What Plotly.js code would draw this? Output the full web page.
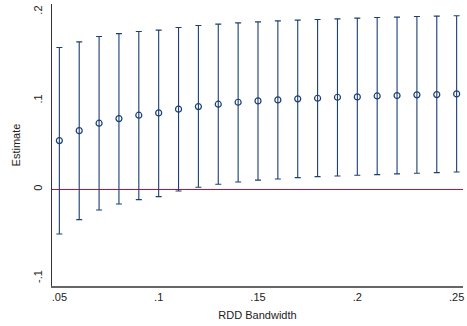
<!DOCTYPE html>
<html>
<head>
<meta charset="utf-8">
<script src="https://cdn.plot.ly/plotly-3.0.1.min.js"></script>
<style>html,body{margin:0;padding:0;background:#fff;}#chart{width:467px;height:326px;}</style>
</head>
<body>
<div id="chart"></div>
<script>
const bandwidth = [0.05,0.06,0.07,0.08,0.09,0.10,0.11,0.12,0.13,0.14,0.15,0.16,0.17,0.18,0.19,0.20,0.21,0.22,0.23,0.24,0.25];
const estimate = [0.0549,0.0661,0.0745,0.0797,0.0835,0.0861,0.0903,0.0932,0.0959,0.0981,0.0996,0.1007,0.1019,0.1026,0.1037,0.1041,0.1052,0.1056,0.1064,0.1067,0.1075];
const ciUpper = [0.1597,0.1661,0.1721,0.1754,0.1777,0.1793,0.1822,0.1845,0.1860,0.1875,0.1886,0.1897,0.1905,0.1912,0.1920,0.1928,0.1935,0.1939,0.1946,0.1950,0.1954];
const ciLower = [-0.0503,-0.0341,-0.0232,-0.0165,-0.0116,-0.0082,-0.0018,0.0024,0.0057,0.0083,0.0104,0.0117,0.0132,0.0143,0.0151,0.0159,0.0166,0.0174,0.0181,0.0188,0.0196];
const xTickVals = [0.05,0.10,0.15,0.20,0.25];
const xTickText = ['.05','.1','.15','.2','.25'];
const yTickVals = [-0.1,0,0.1,0.2];
const yTickText = ['-.1','0','.1','.2'];

const navy = '#1a3f73';
const trace = {
  x: bandwidth,
  y: estimate,
  type: 'scatter',
  mode: 'markers',
  marker: {symbol: 'circle-open', size: 6, color: navy, line: {width: 1.2, color: navy}},
  error_y: {
    type: 'data',
    symmetric: false,
    array: ciUpper.map((u,i) => u - estimate[i]),
    arrayminus: ciLower.map((l,i) => estimate[i] - l),
    color: navy,
    thickness: 1.1,
    width: 3
  },
  hoverinfo: 'skip'
};

const font = {family: 'Liberation Sans, Arial, sans-serif', size: 11, color: '#222'};
const layout = {
  width: 467, height: 326,
  margin: {l: 52, r: 4, t: 4, b: 40},
  paper_bgcolor: '#fff', plot_bgcolor: '#fff',
  showlegend: false,
  font: font,
  xaxis: {
    range: [0.0463, 0.2532],
    tickvals: xTickVals, ticktext: xTickText,
    ticks: '', showgrid: false, zeroline: false,
    showline: true, linecolor: '#666', linewidth: 1.5,
    tickfont: font,
    title: {text: 'RDD Bandwidth', font: font, standoff: 9}
  },
  yaxis: {
    range: [-0.1088, 0.2087],
    tickvals: yTickVals, ticktext: yTickText,
    tickangle: -90,
    ticks: '', showgrid: false,
    ticklabelstandoff: 5,
    zeroline: true, zerolinecolor: '#c0142e', zerolinewidth: 1,
    showline: true, linecolor: '#333', linewidth: 1,
    tickfont: font,
    title: {text: 'Estimate', font: font, standoff: 8}
  }
};
Plotly.newPlot('chart', [trace], layout, {staticPlot: true, displayModeBar: false});
</script>
</body>
</html>
